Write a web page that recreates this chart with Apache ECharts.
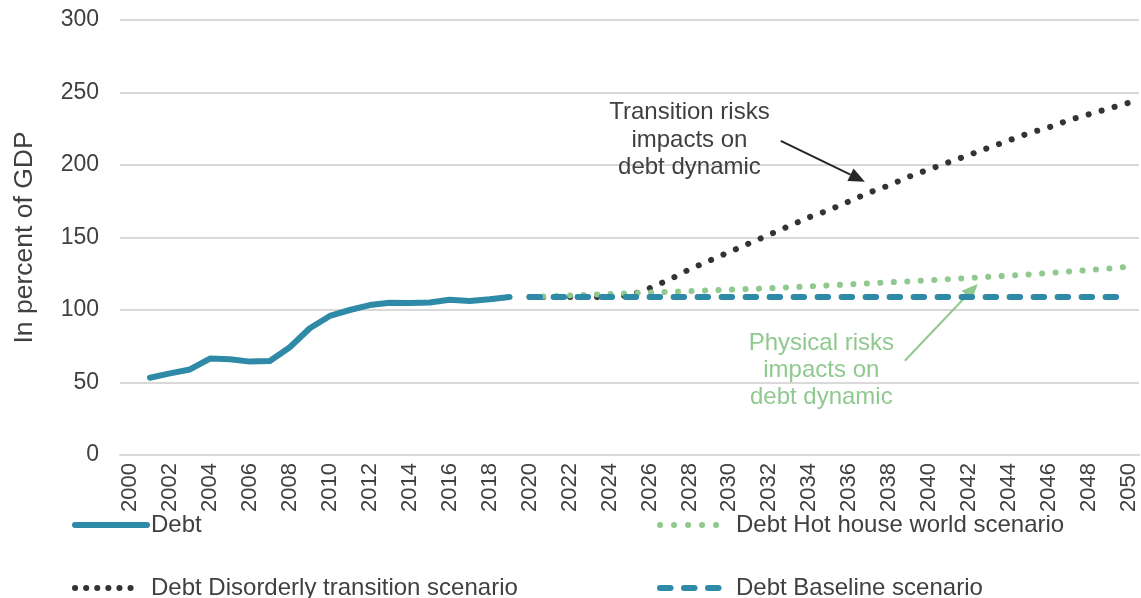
<!DOCTYPE html>
<html>
<head>
<meta charset="utf-8">
<script src="https://cdn.jsdelivr.net/npm/echarts@6/dist/echarts.min.js"></script>
<style>html,body{margin:0;padding:0;background:#fff;}#c{width:1141px;height:598px;}</style>
</head>
<body>
<div id="c"></div>
<script>
var years = [];
for (var y = 2000; y <= 2050; y++) years.push(String(y));

var debt = [null, 53.3, 56.3, 59, 66.5, 66, 64.4, 64.8, 74.3, 87.4, 95.9, 100, 103.4, 105, 104.8, 105.2, 107.1, 106.2, 107.4, 109];
var disorderly = [109, 109, 109, 109, 109, 110, 115, 121, 128, 134, 140, 146, 152, 158, 164, 169, 175, 181, 186, 192, 197, 202, 207, 212, 217, 222, 226, 231, 235, 239, 243];
var hotHouse = [109, 109.5, 110, 110.5, 111, 111.5, 112, 112.5, 113, 113.5, 114, 114.5, 115, 115.7, 116.3, 117, 117.7, 118.4, 119.1, 119.8, 120.5, 121.3, 122.1, 122.9, 123.7, 124.5, 125.5, 126.5, 127.5, 128.6, 129.8];
var baseline = [109, 109, 109, 109, 109, 109, 109, 109, 109, 109, 109, 109, 109, 109, 109, 109, 109, 109, 109, 109, 109, 109, 109, 109, 109, 109, 109, 109, 109, 109, 109];
var yTicks = [0, 50, 100, 150, 200, 250, 300];
var seriesNames = ['Debt', 'Debt Disorderly transition scenario', 'Debt Hot house world scenario', 'Debt Baseline scenario'];

function pad(arr, startIdx) {
  var out = [];
  for (var i = 0; i < years.length; i++) {
    var j = i - startIdx;
    out.push(j >= 0 && j < arr.length ? arr[j] : null);
  }
  return out;
}

var FONT = '"Liberation Sans", Arial, sans-serif';
var TEAL = '#2e8aa6', DARK = '#333333', GREEN = '#90c98f';

function legendAt(name, left, top, iw, dash) {
  var ls = { width: 6 };
  if (dash) ls.type = dash;
  return {
    left: left, top: top, padding: 0, itemWidth: iw, itemHeight: 14, itemGap: 10,
    data: [name], selectedMode: false,
    itemStyle: { opacity: 0 },
    lineStyle: ls,
    textStyle: { color: '#404040', fontSize: 24, fontFamily: FONT, padding: [0, 0, 0, 72 - iw - 1] }
  };
}

var chart = echarts.init(document.getElementById('c'));
chart.setOption({
  animation: false,
  grid: { left: 120, right: 2, top: 20, bottom: 143, containLabel: false },
  xAxis: {
    type: 'category', data: years, boundaryGap: true,
    axisLine: { lineStyle: { color: '#d9d9d9', width: 2 } },
    axisTick: { show: false },
    axisLabel: { interval: 1, rotate: 90, margin: 8, color: '#404040', fontSize: 22, fontFamily: FONT }
  },
  yAxis: {
    type: 'value', min: yTicks[0], max: yTicks[yTicks.length - 1], interval: 50,
    name: 'In percent of GDP', nameLocation: 'middle', nameGap: 82,
    nameTextStyle: { color: '#404040', fontSize: 26.5, fontFamily: FONT },
    axisLine: { show: false }, axisTick: { show: false },
    axisLabel: { margin: 21, color: '#404040', fontSize: 23, fontFamily: FONT },
    splitLine: { lineStyle: { color: '#d9d9d9', width: 2 } }
  },
  legend: [
    legendAt(seriesNames[0], 72, 513, 72),
    legendAt(seriesNames[1], 72, 576, 60, [0.1, 11]),
    legendAt(seriesNames[2], 657, 513, 60, [0.1, 13.9]),
    legendAt(seriesNames[3], 657, 576, 72)
  ],
  series: [
    { name: seriesNames[1], type: 'line', data: pad(disorderly, 20), showSymbol: false, symbol: 'none',
      lineStyle: { color: DARK, width: 6, type: [0.1, 13.4], cap: 'round' }, itemStyle: { color: DARK } },
    { name: seriesNames[2], type: 'line', data: pad(hotHouse, 20), showSymbol: false, symbol: 'none',
      lineStyle: { color: GREEN, width: 6, type: [0.1, 13.4], cap: 'round' }, itemStyle: { color: GREEN } },
    { name: seriesNames[3], type: 'line', data: pad(baseline, 20), showSymbol: false, symbol: 'none',
      lineStyle: { color: TEAL, width: 6, type: [10.5, 13.5], cap: 'round' }, itemStyle: { color: TEAL } },
    { name: seriesNames[0], type: 'line', data: pad(debt, 0), showSymbol: false, symbol: 'none',
      lineStyle: { color: TEAL, width: 6, cap: 'round', join: 'round' }, itemStyle: { color: TEAL } }
  ]
});

// annotations positioned in data space
var p0 = chart.convertToPixel({ gridIndex: 0 }, [0, 0]);
var p1 = chart.convertToPixel({ gridIndex: 0 }, [50, 300]);
function px(idx, val) {
  return [p0[0] + (p1[0] - p0[0]) * idx / 50, p0[1] + (p1[1] - p0[1]) * val / 300];
}
function arrow(a, b, color, hl, hw) {
  var dx = b[0] - a[0], dy = b[1] - a[1], L = Math.sqrt(dx * dx + dy * dy);
  var ux = dx / L, uy = dy / L;
  var bx = b[0] - ux * hl, by = b[1] - uy * hl;
  return [
    { type: 'line', shape: { x1: a[0], y1: a[1], x2: bx, y2: by }, style: { stroke: color, lineWidth: 2 } },
    { type: 'polygon', shape: { points: [b, [bx - uy * hw, by + ux * hw], [bx + uy * hw, by - ux * hw]] }, style: { fill: color } }
  ];
}
var t1 = px(28.0, 217.2), t2 = px(34.6, 58.1);
var g = [];
g = g.concat(arrow(px(32.57, 216.6), px(36.78, 188.5), '#262626', 16, 7));
g = g.concat(arrow(px(38.78, 65), px(42.43, 118), GREEN, 16, 7));
g.push({ type: 'text', x: t1[0], y: t1[1], style: { text: 'Transition risks\nimpacts on\ndebt dynamic', fill: '#404040', font: '24px ' + FONT, align: 'center', verticalAlign: 'middle', lineHeight: 27.5 } });
g.push({ type: 'text', x: t2[0], y: t2[1], style: { text: 'Physical risks\nimpacts on\ndebt dynamic', fill: GREEN, font: '24px ' + FONT, align: 'center', verticalAlign: 'middle', lineHeight: 27 } });
chart.setOption({ graphic: g });
</script>
</body>
</html>
